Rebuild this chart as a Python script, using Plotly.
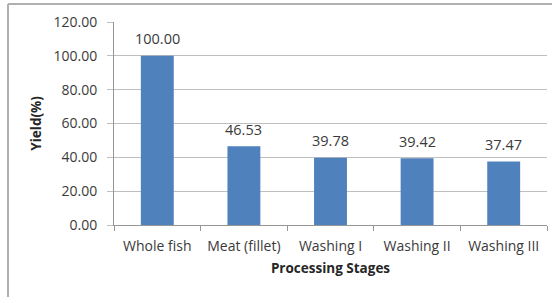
import plotly.graph_objects as go

categories = ["Whole fish", "Meat (fillet)", "Washing I", "Washing II", "Washing III"]
yield_pct = [100.00, 46.53, 39.78, 39.42, 37.47]
value_labels = ["100.00", "46.53", "39.78", "39.42", "37.47"]

W, H = 552, 297
ml, mr, mt, mb = 114, 5, 22, 72

fig = go.Figure()
fig.add_trace(go.Bar(
    x=categories, y=yield_pct,
    marker=dict(color="#4F81BD", line=dict(width=0)),
    width=0.38,
))

for c, v, t in zip(categories, yield_pct, value_labels):
    fig.add_annotation(x=c, y=v, text=t, showarrow=False, yanchor="middle",
                       yshift=17, font=dict(size=14.5, color="#3a3a3a", family="Open Sans"))

fig.update_layout(
    width=W, height=H,
    margin=dict(l=ml, r=mr, t=mt, b=mb, autoexpand=False),
    paper_bgcolor="white", plot_bgcolor="white",
    showlegend=False,
    font=dict(family="Open Sans", color="#3a3a3a", size=13),
    xaxis=dict(
        automargin=False,
        showline=True, linecolor="#969696", linewidth=1,
        ticks="outside", tickson="boundaries", ticklen=5, tickcolor="#969696",
        ticklabelstandoff=8,
        tickfont=dict(size=14, color="#3a3a3a"),
        title=dict(text="<b>Processing Stages</b>", font=dict(size=13.5, color="#262626"), standoff=9),
        showgrid=False,
    ),
    yaxis=dict(
        automargin=False,
        range=[0, 120], dtick=20, tickformat=".2f",
        showline=True, linecolor="#969696", linewidth=1,
        ticks="outside", ticklen=6, tickcolor="#BFBFBF",
        ticklabelstandoff=7,
        showgrid=True, gridcolor="#BFBFBF", gridwidth=1,
        tickfont=dict(size=14, color="#3a3a3a"),
        title=dict(text="<b>Yield(%)</b>", font=dict(size=13.5, color="#262626"), standoff=8),
        zeroline=False,
    ),
)

# outer frame lines (top and left of the chart area)
pw, ph = W - ml - mr, H - mt - mb
fig.add_shape(type="line", xref="paper", yref="paper",
              x0=(8 - ml) / pw, x1=1 + mr / pw,
              y0=1 + (mt - 4) / ph, y1=1 + (mt - 4) / ph,
              line=dict(color="#B0B0B0", width=2))
fig.add_shape(type="line", xref="paper", yref="paper",
              x0=(8 - ml) / pw, x1=(8 - ml) / pw,
              y0=-mb / ph, y1=1 + (mt - 4) / ph,
              line=dict(color="#B0B0B0", width=2))

fig.write_html("out.html", config={"displayModeBar": False},
               post_script="document.body.style.margin='0';document.body.style.overflow='hidden';")
